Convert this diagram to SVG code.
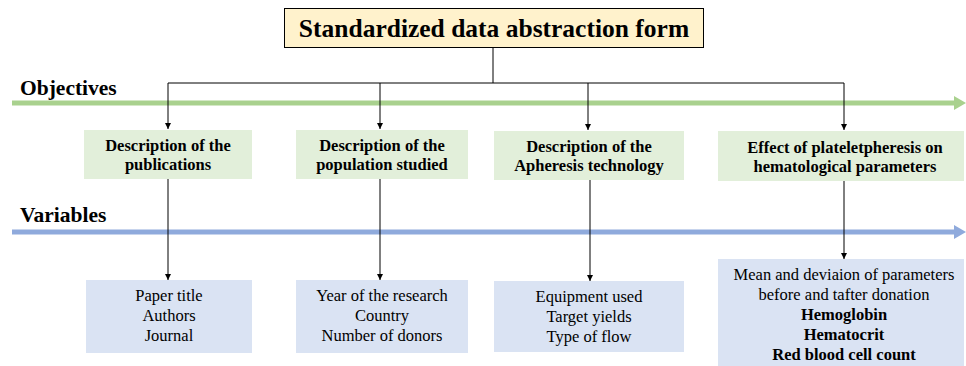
<svg xmlns="http://www.w3.org/2000/svg" width="966" height="366" viewBox="0 0 966 366">
  <style>
    text { font-family: 'Liberation Serif', 'DejaVu Serif', serif; fill: #000; }
    .title { font-size: 25.5px; font-weight: bold; }
    .axis { font-size: 21.5px; font-weight: bold; }
    .obj { font-size: 16.5px; font-weight: bold; }
    .var { font-size: 16.5px; }
    .b { font-weight: bold; }
    .objbox { fill: #E2EFDA; }
    .varbox { fill: #DAE3F3; }
    .conn { fill: none; stroke: #000; stroke-width: 1; }
  </style>
  <defs>
    <marker id="arrow" viewBox="0 0 10 10" refX="10" refY="5" markerWidth="6" markerHeight="6" markerUnits="userSpaceOnUse" orient="auto">
      <path d="M0,0 L10,5 L0,10 z" fill="#000"/>
    </marker>
  </defs>

  <rect width="966" height="366" fill="#fff"/>

  <!-- Axes -->
  <g id="axis-objectives">
    <line x1="12" y1="103" x2="956" y2="103" stroke="#A9D18E" stroke-width="5"/>
    <polygon points="954,96 966,103 954,110" fill="#A9D18E"/>
    <text class="axis" x="20" y="95">Objectives</text>
  </g>
  <g id="axis-variables">
    <line x1="12" y1="232" x2="956" y2="232" stroke="#8FAADC" stroke-width="5"/>
    <polygon points="954,225 966,232 954,239" fill="#8FAADC"/>
    <text class="axis" x="20" y="222">Variables</text>
  </g>

  <!-- Connectors -->
  <g id="connectors">
    <path class="conn" d="M493,47 V83 M168,83 H844"/>
    <line class="conn" x1="168" y1="83" x2="168" y2="129" marker-end="url(#arrow)"/>
    <line class="conn" x1="380" y1="83" x2="380" y2="129" marker-end="url(#arrow)"/>
    <line class="conn" x1="588" y1="83" x2="588" y2="130" marker-end="url(#arrow)"/>
    <line class="conn" x1="844" y1="83" x2="844" y2="130" marker-end="url(#arrow)"/>
    <line class="conn" x1="168" y1="179" x2="168" y2="280" marker-end="url(#arrow)"/>
    <line class="conn" x1="380" y1="179" x2="380" y2="280" marker-end="url(#arrow)"/>
    <line class="conn" x1="590" y1="180" x2="590" y2="281" marker-end="url(#arrow)"/>
    <line class="conn" x1="844" y1="181" x2="844" y2="259" marker-end="url(#arrow)"/>
  </g>

  <!-- Title -->
  <g id="title">
    <rect x="284.5" y="8.5" width="419" height="39" fill="#FFF2CC" stroke="#000" stroke-width="1"/>
    <text class="title" x="494" y="37" text-anchor="middle">Standardized data abstraction form</text>
  </g>

  <!-- Objectives -->
  <g id="obj-publications">
    <rect class="objbox" x="84" y="130" width="168" height="49"/>
    <text class="obj" x="168" y="151" text-anchor="middle">Description of the</text>
    <text class="obj" x="168" y="170" text-anchor="middle">publications</text>
  </g>
  <g id="obj-population">
    <rect class="objbox" x="296" y="130" width="172" height="49"/>
    <text class="obj" x="382" y="151" text-anchor="middle">Description of the</text>
    <text class="obj" x="382" y="170" text-anchor="middle">population studied</text>
  </g>
  <g id="obj-apheresis">
    <rect class="objbox" x="494" y="131" width="190" height="49"/>
    <text class="obj" x="589" y="152" text-anchor="middle">Description of the</text>
    <text class="obj" x="589" y="171" text-anchor="middle">Apheresis technology</text>
  </g>
  <g id="obj-effect">
    <rect class="objbox" x="718" y="131" width="246" height="50"/>
    <text class="obj" x="845" y="153" text-anchor="middle">Effect of plateletpheresis on</text>
    <text class="obj" x="845" y="172" text-anchor="middle">hematological parameters</text>
  </g>

  <!-- Variables -->
  <g id="var-publications">
    <rect class="varbox" x="86" y="280" width="166" height="73"/>
    <text class="var" x="169" y="301" text-anchor="middle">Paper title</text>
    <text class="var" x="169" y="321" text-anchor="middle">Authors</text>
    <text class="var" x="169" y="341" text-anchor="middle">Journal</text>
  </g>
  <g id="var-population">
    <rect class="varbox" x="296" y="280" width="172" height="73"/>
    <text class="var" x="382" y="301" text-anchor="middle">Year of the research</text>
    <text class="var" x="382" y="321" text-anchor="middle">Country</text>
    <text class="var" x="382" y="341" text-anchor="middle">Number of donors</text>
  </g>
  <g id="var-apheresis">
    <rect class="varbox" x="494" y="281" width="190" height="71"/>
    <text class="var" x="589" y="302" text-anchor="middle">Equipment used</text>
    <text class="var" x="589" y="322" text-anchor="middle">Target yields</text>
    <text class="var" x="589" y="342" text-anchor="middle">Type of flow</text>
  </g>
  <g id="var-effect">
    <rect class="varbox" x="718" y="259" width="246" height="107"/>
    <text class="var" x="844" y="280" text-anchor="middle">Mean and deviaion of parameters</text>
    <text class="var" x="844" y="300" text-anchor="middle">before and tafter donation</text>
    <text class="var b" x="844" y="320" text-anchor="middle">Hemoglobin</text>
    <text class="var b" x="844" y="340" text-anchor="middle">Hematocrit</text>
    <text class="var b" x="844" y="360" text-anchor="middle">Red blood cell count</text>
  </g>
</svg>
